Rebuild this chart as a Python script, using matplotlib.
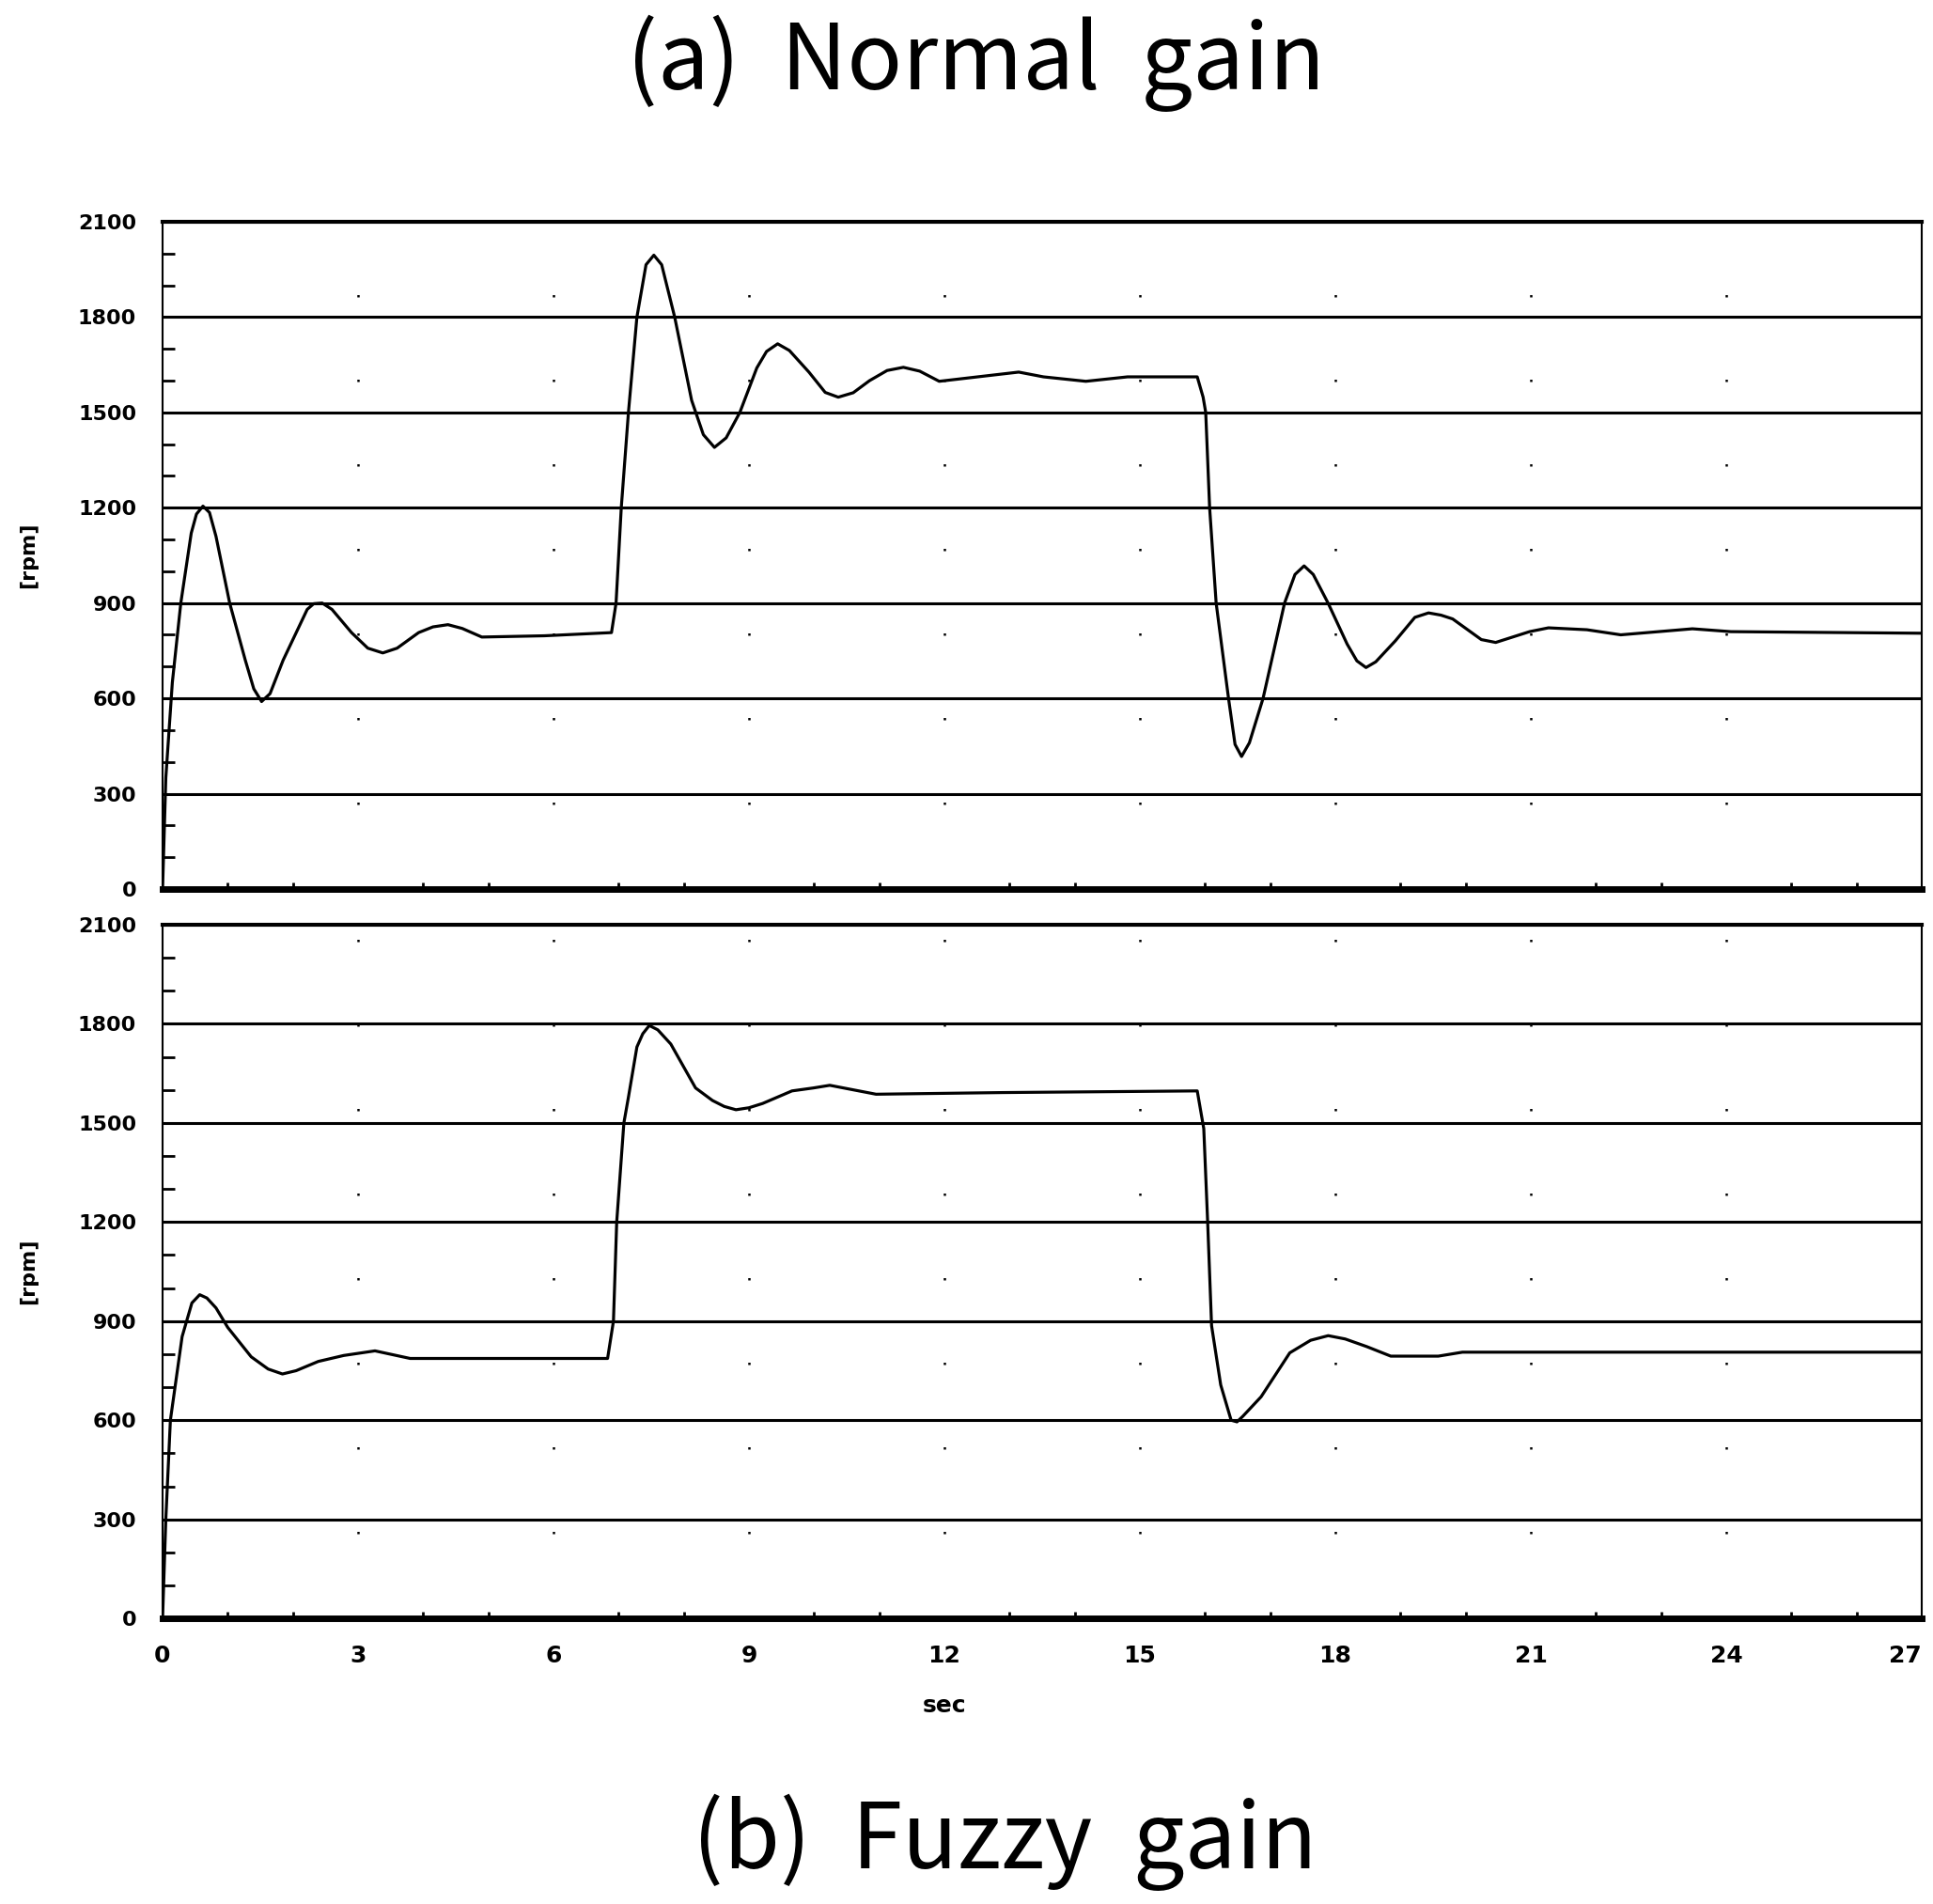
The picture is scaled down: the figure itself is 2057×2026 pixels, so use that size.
"""Speed response: normal gain vs fuzzy gain."""
import matplotlib.pyplot as plt
from matplotlib.ticker import MultipleLocator

# Time axis [sec] and speed [rpm].
normal_t = [0, 0.05, 0.15, 0.28, 0.44, 0.52, 0.62, 0.72, 0.82, 1.03, 1.27,
            1.40, 1.52, 1.65, 1.85, 2.22, 2.32, 2.45, 2.60, 2.90, 3.15,
            3.38, 3.60, 3.93, 4.15, 4.38, 4.60, 4.90, 5.86, 6.89,
            6.96, 7.04, 7.15, 7.28, 7.42, 7.54, 7.66, 7.86, 8.12, 8.30,
            8.47, 8.65, 8.86, 9.12, 9.27, 9.44, 9.62, 9.92, 10.17, 10.37,
            10.60, 10.85, 11.12, 11.37, 11.62, 11.92, 13.14,
            13.52, 14.17, 14.81, 15.88, 15.97, 16.01, 16.07, 16.17, 16.36,
            16.46, 16.56, 16.68, 16.89, 17.22, 17.38, 17.52, 17.66, 17.89,
            18.18, 18.33, 18.47, 18.62, 18.92, 19.22, 19.43, 19.62,
            19.80, 20.24, 20.46, 20.98, 21.27, 21.86, 22.38, 23.48, 24.07, 27.0]
normal_rpm = [0, 350, 650, 900, 1120, 1180, 1205, 1185, 1110, 900, 720,
              630, 590, 615, 720, 880, 898, 900, 880, 807, 758,
              743, 758, 807, 825, 832, 820, 793, 797, 807,
              900, 1200, 1500, 1800, 1965, 1995, 1965, 1800, 1538, 1430,
              1390, 1420, 1500, 1640, 1692, 1716, 1695, 1627, 1563, 1548,
              1562, 1600, 1632, 1642, 1630, 1598, 1627,
              1612, 1598, 1612, 1612, 1548, 1500, 1200, 900, 600,
              455, 417, 460, 600, 900, 990, 1017, 990, 899,
              771, 718, 697, 715, 781, 855, 869, 862,
              850, 785, 776, 810, 822, 816, 800, 819, 810, 805]

fuzzy_t = [0, 0.05, 0.12, 0.30, 0.45, 0.57, 0.68, 0.82, 1.00, 1.36, 1.62,
           1.84, 2.05, 2.39, 2.78, 3.26, 3.80, 6.83, 6.92, 6.97, 7.08,
           7.15, 7.28, 7.37, 7.47, 7.60, 7.80, 8.18, 8.44, 8.62, 8.80,
           9.00, 9.21, 9.66, 9.99, 10.24, 10.95, 12.89, 15.88, 15.98,
           16.04, 16.10, 16.24, 16.40, 16.49, 16.58, 16.86, 17.30, 17.62,
           17.89, 18.15, 18.48, 18.85, 19.58, 19.95, 27.0]
fuzzy_rpm = [0, 300, 600, 853, 955, 980, 970, 940, 881, 792, 755,
             740, 750, 778, 796, 810, 787, 787, 900, 1200, 1500,
             1578, 1730, 1770, 1795, 1782, 1739, 1606, 1568, 1550, 1540,
             1546, 1559, 1597, 1606, 1614, 1587, 1592, 1597, 1483,
             1199, 886, 707, 600, 595, 612, 671, 804, 842,
             856, 846, 823, 794, 794, 806, 806]

y_ticks = [0, 300, 600, 900, 1200, 1500, 1800, 2100]
x_ticks = [0, 3, 6, 9, 12, 15, 18, 21, 24, 27]

fig = plt.figure(figsize=(20.57, 20.26), dpi=100)
ax_top = fig.add_axes([0.0841, 0.5331, 0.9101, 0.3504])
ax_bot = fig.add_axes([0.0841, 0.1500, 0.9101, 0.3643])

for ax, t, rpm in [(ax_top, normal_t, normal_rpm), (ax_bot, fuzzy_t, fuzzy_rpm)]:
    # Horizontal grid is solid, the vertical one only faint dots.
    for yv in y_ticks[1:-1]:
        ax.axhline(yv, color="black", lw=2.2, zorder=1)
    for xv in x_ticks[1:-1]:
        ax.axvline(xv, color="black", lw=1.8, ls=(0, (1, 35)), zorder=1)

    ax.plot(t, rpm, color="black", lw=2.3, zorder=3, solid_joinstyle="round")

    ax.set_xlim(0, 27)
    ax.set_ylim(0, 2100)
    ax.set_yticks(y_ticks)
    ax.set_xticks(x_ticks)
    ax.yaxis.set_minor_locator(MultipleLocator(100))
    ax.xaxis.set_minor_locator(MultipleLocator(1))
    ax.tick_params(axis="y", which="major", length=0, pad=20, labelsize=16)
    ax.tick_params(axis="y", which="minor", direction="in", length=9, width=2)
    ax.tick_params(axis="x", which="major", direction="in", length=0, pad=20,
                   labelsize=18)
    ax.tick_params(axis="x", which="minor", direction="in", length=5, width=2)
    for lab in ax.get_yticklabels() + ax.get_xticklabels():
        lab.set_fontweight("bold")

    ax.spines["top"].set_linewidth(3)
    ax.spines["bottom"].set_linewidth(5)
    ax.spines["left"].set_linewidth(1.5)
    ax.spines["right"].set_linewidth(1.5)

    ax.set_ylabel("[rpm]", fontsize=16, fontweight="bold")
    ax.yaxis.set_label_coords(-0.071, 0.5)

ax_top.tick_params(axis="x", labelbottom=False)
ax_bot.set_xlabel("sec", fontsize=18, fontweight="bold")
ax_bot.xaxis.set_label_coords(12 / 27, -0.11)

# The last label sits on the figure edge, as in the original scan.
ax_bot.get_xticklabels()[-1].set_horizontalalignment("right")

fig.text(0.505, 0.967, "(a)  Normal  gain", ha="center", va="center",
         fontsize=70, family=["Noto Sans CJK KR", "DejaVu Sans"])
fig.text(0.520, 0.0326, "(b)  Fuzzy  gain", ha="center", va="center",
         fontsize=70, family=["Noto Sans CJK KR", "DejaVu Sans"])

fig.savefig("out.png", dpi=100, facecolor="white")
